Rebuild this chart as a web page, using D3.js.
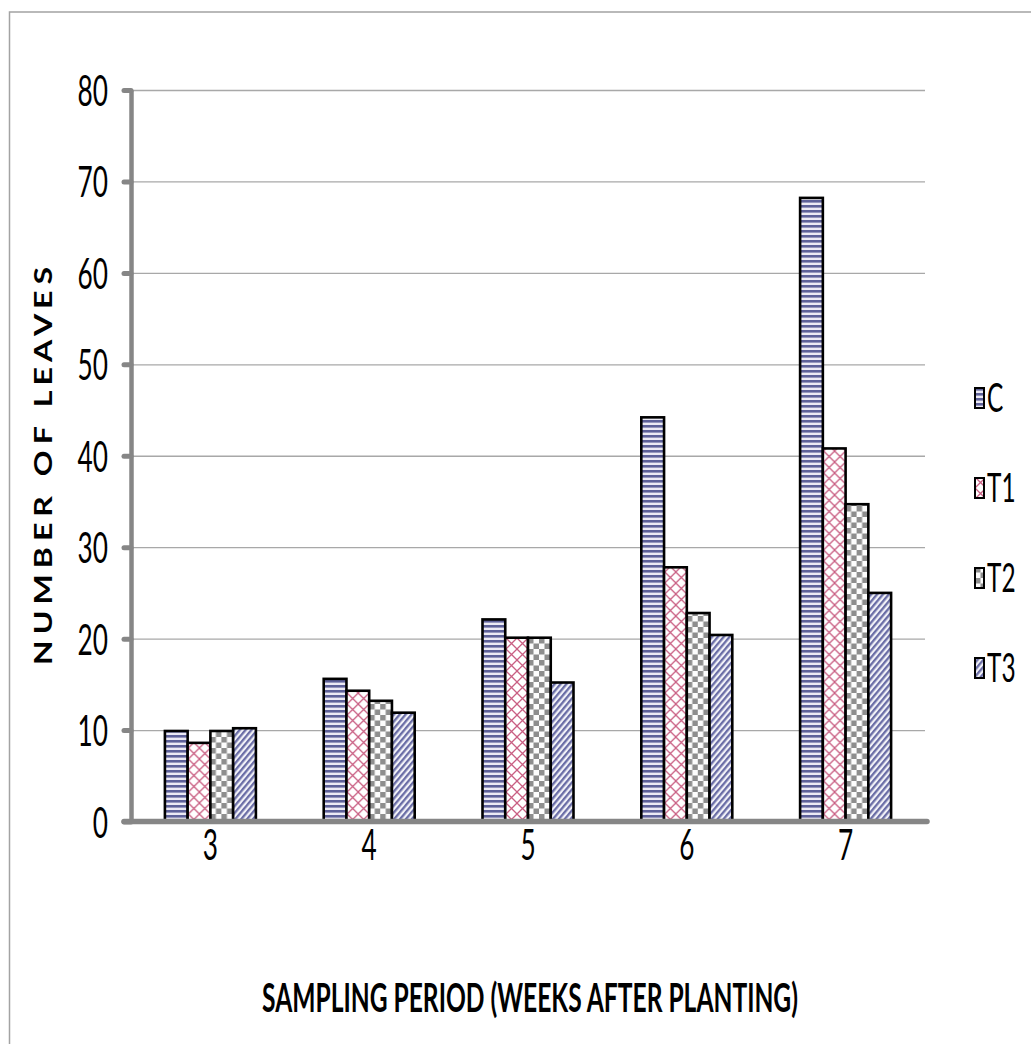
<!DOCTYPE html>
<html>
<head>
<meta charset="utf-8">
<script src="https://cdn.jsdelivr.net/npm/d3@7"></script>
<style>
  html, body { margin: 0; padding: 0; background: #fff; }
  svg { display: block; }
  text { font-family: "Lato", "Noto Sans", sans-serif; fill: #000; }
</style>
</head>
<body>
<svg id="chart" width="1031" height="1044"></svg>
<script>
// Number of leaves per treatment, by week after planting
const weeks = ["3", "4", "5", "6", "7"];
const series = ["C", "T1", "T2", "T3"];
const valuesC  = [9.9, 15.6, 22.1, 44.2, 68.2];
const valuesT1 = [8.6, 14.3, 20.1, 27.8, 40.8];
const valuesT2 = [9.9, 13.2, 20.1, 22.8, 34.7];
const valuesT3 = [10.2, 11.9, 15.2, 20.4, 25.0];
const yTicks = [0, 10, 20, 30, 40, 50, 60, 70, 80];
const yTitle = "N U M B E R   O F   L E A V E S";
const xTitle = "SAMPLING PERIOD (WEEKS AFTER PLANTING)";

const seriesValues = { C: valuesC, T1: valuesT1, T2: valuesT2, T3: valuesT3 };
const rows = weeks.map((w, i) => ({ week: w, vals: series.map(s => ({ key: s, value: seriesValues[s][i] })) }));

const svg = d3.select("#chart");
const plot = { left: 131, right: 925, top: 90, bottom: 821.5 };
const narrow = 0.61; // horizontal squeeze of the label lettering

// outer frame
svg.append("rect")
  .attr("x", 9.5).attr("y", 12).attr("width", 1030).attr("height", 1040)
  .attr("fill", "none").attr("stroke", "#a3a3a3").attr("stroke-width", 1.5);

// fill patterns
const defs = svg.append("defs");
const pC = defs.append("pattern").attr("id", "patC").attr("patternUnits", "userSpaceOnUse")
  .attr("width", 6).attr("height", 5);
pC.append("rect").attr("width", 6).attr("height", 5).attr("fill", "#eceaf4");
pC.append("rect").attr("y", 0).attr("width", 6).attr("height", 2.6).attr("fill", "#5e6199");

const pT1 = defs.append("pattern").attr("id", "patT1").attr("patternUnits", "userSpaceOnUse")
  .attr("width", 11).attr("height", 11);
pT1.append("rect").attr("width", 11).attr("height", 11).attr("fill", "#fff");
pT1.append("path").attr("d", "M0,0L11,11M11,0L0,11M-1,10L1,12M10,-1L12,1")
  .attr("stroke", "#c95f83").attr("stroke-width", 1.3).attr("fill", "none");

const pT2 = defs.append("pattern").attr("id", "patT2").attr("patternUnits", "userSpaceOnUse")
  .attr("width", 11).attr("height", 11);
pT2.append("rect").attr("width", 11).attr("height", 11).attr("fill", "#fdfdfd");
pT2.append("rect").attr("width", 5.5).attr("height", 5.5).attr("fill", "#8e8e8e");
pT2.append("rect").attr("x", 5.5).attr("y", 5.5).attr("width", 5.5).attr("height", 5.5).attr("fill", "#8e8e8e");

const pT3 = defs.append("pattern").attr("id", "patT3").attr("patternUnits", "userSpaceOnUse")
  .attr("width", 4.5).attr("height", 8).attr("patternTransform", "rotate(40)");
pT3.append("rect").attr("width", 4.5).attr("height", 8).attr("fill", "#f2f2f8");
pT3.append("rect").attr("width", 2.3).attr("height", 8).attr("fill", "#6a6da6");

const fills = { C: "url(#patC)", T1: "url(#patT1)", T2: "url(#patT2)", T3: "url(#patT3)" };

// scales
const y = d3.scaleLinear().domain([0, 80]).range([plot.bottom, plot.top]);
const x0 = d3.scaleBand().domain(weeks).range([plot.left, plot.right]).padding(0);
const groupW = x0.bandwidth() * 0.573;
const x1 = d3.scaleBand().domain(series).range([-groupW / 2, groupW / 2]).padding(0);

// gridlines
svg.append("g")
  .attr("transform", `translate(${plot.left},0)`)
  .call(d3.axisLeft(y).tickValues(yTicks.slice(1)).tickSize(-(plot.right - plot.left)).tickFormat(""))
  .call(g => g.select(".domain").remove())
  .call(g => g.selectAll("line").attr("stroke", "#a8a8a8").attr("stroke-width", 1.3));

// bars
const groups = svg.append("g").selectAll("g").data(rows).join("g")
  .attr("transform", d => `translate(${x0(d.week) + x0.bandwidth() / 2},0)`);
groups.selectAll("rect").data(d => d.vals).join("rect")
  .attr("x", d => x1(d.key))
  .attr("y", d => y(d.value))
  .attr("width", x1.bandwidth())
  .attr("height", d => y(0) - y(d.value))
  .attr("fill", d => fills[d.key])
  .attr("stroke", "#000").attr("stroke-width", 2.6);

// y axis (thick grey line with rounded ticks)
svg.append("g")
  .attr("transform", `translate(${plot.left},0)`)
  .call(d3.axisLeft(y).tickValues(yTicks).tickSize(7).tickSizeOuter(0).tickFormat(""))
  .call(g => g.select(".domain").attr("stroke", "#868686").attr("stroke-width", 4.5))
  .call(g => g.selectAll(".tick line").attr("stroke", "#868686").attr("stroke-width", 5).attr("stroke-linecap", "round"));

// x axis line
svg.append("line")
  .attr("x1", plot.left - 7).attr("x2", plot.right + 2)
  .attr("y1", y(0)).attr("y2", y(0))
  .attr("stroke", "#868686").attr("stroke-width", 5.5).attr("stroke-linecap", "round");

// y tick labels
svg.append("g").selectAll("text").data(yTicks).join("text")
  .attr("transform", d => `translate(108,${y(d) + 16}) scale(${narrow},1)`)
  .attr("text-anchor", "end")
  .attr("font-size", 43)
  .text(d => d);

// x tick labels
svg.append("g").selectAll("text").data(weeks).join("text")
  .attr("transform", d => `translate(${x0(d) + x0.bandwidth() / 2},${y(0) + 38}) scale(${narrow},1)`)
  .attr("text-anchor", "middle")
  .attr("font-size", 43)
  .text(d => d);

// y axis title, letter-spaced and rotated
svg.append("text")
  .attr("transform", "translate(43,466) scale(0.8,1) rotate(-90)")
  .attr("y", 11.5)
  .attr("text-anchor", "middle")
  .attr("font-size", 32).attr("font-weight", 700)
  .attr("textLength", 398).attr("lengthAdjust", "spacing")
  .style("white-space", "pre")
  .text(yTitle);

// x axis title, squeezed to its measured width
const xt = svg.append("text")
  .attr("text-anchor", "middle")
  .attr("font-size", 41).attr("font-weight", 700)
  .text(xTitle);
const xtW = xt.node().getComputedTextLength();
xt.attr("transform", `translate(530,1012) scale(${536 / xtW},1)`);

// legend
const legend = svg.append("g").selectAll("g").data(series).join("g")
  .attr("transform", (d, i) => `translate(975,${398 + i * 90})`);
legend.append("rect")
  .attr("x", 0).attr("y", -10).attr("width", 9).attr("height", 20)
  .attr("fill", d => fills[d]).attr("stroke", "#000").attr("stroke-width", 2);
legend.append("text")
  .attr("transform", `translate(12,14) scale(${narrow},1)`)
  .attr("font-size", 40)
  .text(d => d);
</script>
</body>
</html>
